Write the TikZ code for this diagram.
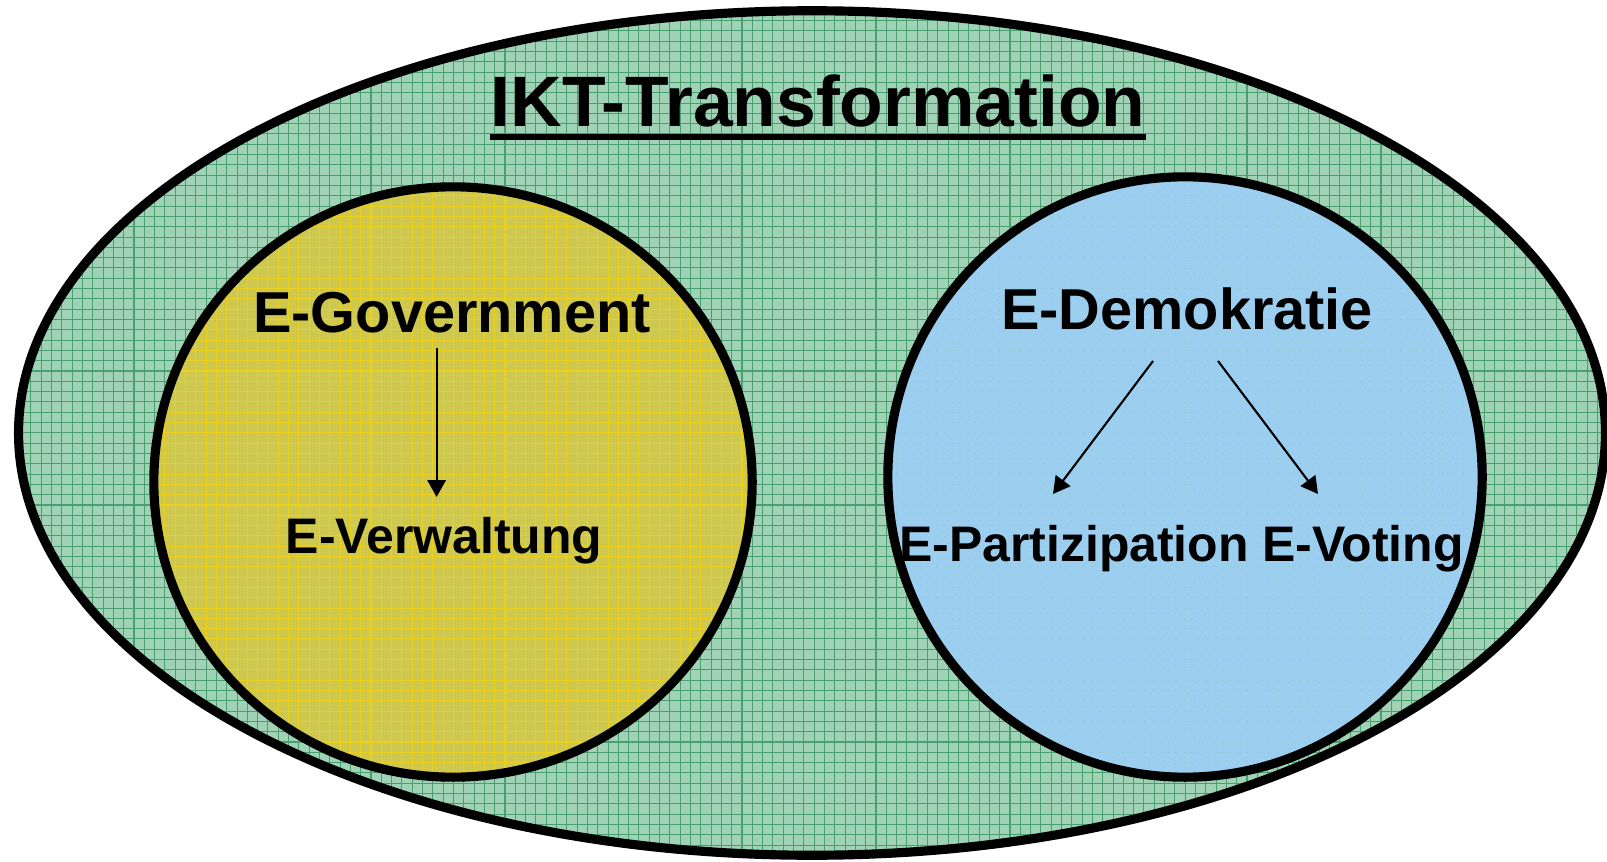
\documentclass[tikz,border=0pt]{standalone}
\usepackage{fontspec}
\setmainfont{Liberation Sans}
\usetikzlibrary{arrows.meta,calc}
\definecolor{gfill}{RGB}{160,210,182}
\definecolor{ggrid}{RGB}{72,160,112}
\definecolor{yfill}{RGB}{206,200,78}
\definecolor{ygrid}{RGB}{236,208,30}
\definecolor{bfill}{RGB}{156,206,240}
\definecolor{bgrid}{RGB}{140,200,205}
\tikzset{
  outline/.style={draw=black,line width=2.6pt},
  lbl/.style={inner sep=0pt,anchor=base,font=\bfseries},
  big/.style={lbl,font=\bfseries\fontsize{20.3pt}{24pt}\selectfont},
  mid/.style={lbl,font=\bfseries\fontsize{16.4pt}{19pt}\selectfont},
  small/.style={lbl,font=\bfseries\fontsize{14.2pt}{17pt}\selectfont},
  arr/.style={line width=0.6pt,-{Triangle[length=4.8pt,width=5.2pt]}},
  gridline/.style={line width=0.3pt}
}
\begin{document}
\begin{tikzpicture}[x=0.01cm,y=-0.01cm]
\useasboundingbox (0,0) rectangle (1607,861);
\clip (0,0) rectangle (1607,861);
% outer ellipse
\begin{scope}
  \clip (812,433) ellipse [x radius=7.93cm,y radius=4.22cm];
  \fill[gfill] (0,0) rectangle (1607,861);
  \draw[ggrid,gridline,xstep=0.103cm,ystep=0.103cm] (0,0) grid (1607,861);
\end{scope}
\draw[outline] (812,433) ellipse [x radius=7.93cm,y radius=4.22cm];
% left circle
\begin{scope}
  \clip (453,482) ellipse [x radius=2.99cm,y radius=2.95cm];
  \fill[yfill] (0,0) rectangle (1607,861);
  \draw[ygrid,gridline,xstep=0.103cm,ystep=0.103cm] (0,0) grid (1607,861);
\end{scope}
\draw[outline] (453,482) ellipse [x radius=2.99cm,y radius=2.95cm];
% right circle
\begin{scope}
  \clip (1185,477) ellipse [x radius=2.97cm,y radius=3.0cm];
  \fill[bfill] (0,0) rectangle (1607,861);
  \draw[bgrid,line width=0.2pt,dotted,xstep=0.103cm,ystep=0.103cm] (0,0) grid (1607,861);
\end{scope}
\draw[outline] (1185,477) ellipse [x radius=2.97cm,y radius=3.0cm];
% texts
\node[big] (title) at (818,127) {IKT-Transformation};
\draw[line width=1.7pt] ($(title.base west)+(0,10)$) -- ($(title.base east)+(0,10)$);
\node[mid] (egov) at (452,333) {E-Government};
\node[small] (everw) at (444,553) {E-Verwaltung};
\node[mid] (edemo) at (1187,330) {E-Demokratie};
\node[small] (epart) at (1074,561) {E-Partizipation};
\node[small] (evot) at (1363,561) {E-Voting};
% arrows
\draw[arr] ($(egov.base)+(-15.4,15)$) -- ($(everw.base)+(-7.4,-56)$);
\draw[arr] ($(edemo.base)+(-34,31)$) -- ($(epart.base)+(-21,-67)$);
\draw[arr] ($(edemo.base)+(31,31)$) -- ($(evot.base)+(-45,-67)$);
\end{tikzpicture}
\end{document}
